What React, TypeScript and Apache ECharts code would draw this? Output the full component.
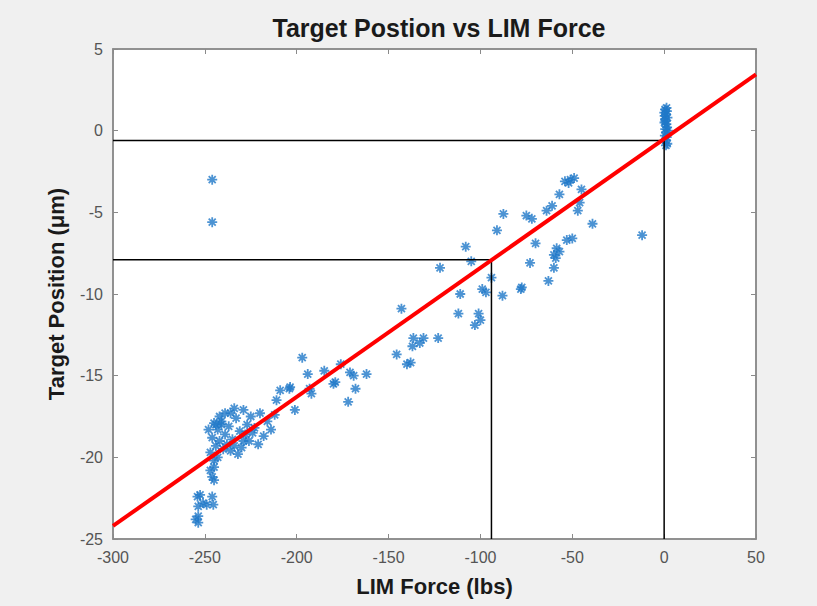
import React, { useEffect, useRef } from "react";
import * as echarts from "echarts";

const titleText = "Target Postion vs LIM Force";
const xName = "LIM Force (lbs)";
const yName = "Target Position (μm)";

const xTicks = [-300, -250, -200, -150, -100, -50, 0, 50];
const yTicks = [-25, -20, -15, -10, -5, 0, 5];

// LIM force (lbs) of each measurement
const forceLbs = [
  0.5, 1.5, 1.0, 0.3, 1.8, 0.8, 1.2, 0.2, 1.6, 0.6, 1.1, 0.4, 1.4, 0.9, 1.7, 0.5, 1.3, 0.1, 2.0, 1.0,
  -54, -51, -49, -52, -45, -57, -47, -46, -61, -64, -75, -72, -39, -12, -50, -53, -70, -58.5, -57, -60,
  -59, -73, -60, -63, -77.5, -87.5, -91, -108, -105, -122, -94, -78, -99, -97, -111, -88, -112, -101, -103, -100,
  -143, -136.5, -131, -123, -137, -138, -133, -145.6, -140,
  -197, -194, -185, -171, -169, -162, -179, -168, -172, -204, -209, -192, -211, -201, -180, -193, -203.6, -176,
  -236, -229, -220, -218, -245, -243, -241, -239, -237, -235, -233, -231, -229, -227, -225, -223, -221,
  -246, -244, -242, -240, -238, -236, -234, -232, -230, -228, -226, -224, -216, -214, -212,
  -247, -245, -247, -245, -246, -245, -243, -241, -239, -234, -244, -248, -242,
  -254, -251, -245.4, -253.6, -253.6, -252.6, -246, -253.6, -249, -255,
  -246, -246,
];

// Target position (µm) of each measurement
const positionUm = [
  1.3, 1.2, 1.0, 0.9, 0.8, 0.6, 0.4, 0.5, 0.2, 0.1, -0.1, -0.3, -0.4, -0.6, -0.8, 0.7, 1.4, 1.1, 0.0, -0.9,
  -3.1, -3.0, -2.9, -3.2, -3.6, -3.9, -4.9, -4.4, -4.6, -4.9, -5.2, -5.4, -5.7, -6.4, -6.6, -6.7, -6.9, -7.2, -7.4, -7.6,
  -7.8, -8.1, -8.4, -9.2, -9.6, -5.1, -6.1, -7.1, -8.0, -8.4, -9.0, -9.7, -9.7, -9.9, -10.0, -10.1, -11.2, -11.2, -11.9, -11.6,
  -10.9, -12.7, -12.7, -12.7, -13.2, -14.2, -13.0, -13.7, -14.3,
  -13.9, -14.9, -14.7, -14.8, -15.0, -14.9, -15.4, -15.8, -16.6, -15.8, -15.9, -16.1, -16.5, -17.1, -15.5, -15.8, -15.7, -14.3,
  -17.3, -17.1, -17.3, -18.7, -17.9, -18.3, -17.8, -18.6, -18.1, -18.9, -17.6, -18.4, -19.0, -18.0, -17.5, -18.2, -19.2,
  -18.8, -19.3, -19.0, -19.5, -19.2, -19.6, -19.3, -19.8, -19.4, -18.6, -19.0, -18.5, -17.8, -18.3, -17.4,
  -19.7, -20.2, -20.8, -21.4, -21.2, -20.6, -20.0, -18.0, -17.3, -17.0, -18.0, -18.3, -17.5,
  -22.4, -22.8, -22.9, -23.6, -24.0, -22.3, -22.4, -23.0, -22.9, -23.8,
  -3.0, -5.6,
];

// Linear fit endpoints
const fitX = [-300, 50];
const fitY = [-24.2, 3.45];

// Reference guide lines
const guideA = [[-300, -0.6], [0, -0.6], [0, -25]];
const guideB = [[-300, -7.9], [-94, -7.9], [-94, -25]];

const starPath =
  "path://M5,0L5,10M0,5L10,5M1.5,1.5L8.5,8.5M1.5,8.5L8.5,1.5";

export default function App() {
  const ref = useRef<HTMLDivElement>(null);

  useEffect(() => {
    document.body.style.margin = "0";
    document.body.style.background = "#f0f0f0";
    if (!ref.current) return;
    const chart = echarts.init(ref.current, undefined, { renderer: "svg" });

    const points = forceLbs.map((x, i) => [x, positionUm[i]]);
    const fit = fitX.map((x, i) => [x, fitY[i]]);

    const axisColor = "#8a8a8a";
    const font = "Liberation Sans, Arial, sans-serif";
    const labelStyle = { color: "#555", fontSize: 16, fontFamily: font };
    const line = { show: true, onZero: false, lineStyle: { color: axisColor, width: 1.5 } };
    const tick = { show: true, inside: true, length: 5, lineStyle: { color: axisColor } };
    const nameStyle = { fontSize: 22, fontWeight: "bold", color: "#1a1a1a", fontFamily: font };

    chart.setOption({
      animation: false,
      backgroundColor: "#f0f0f0",
      title: {
        text: titleText,
        left: 434,
        top: 10,
        textAlign: "center",
        textStyle: { fontSize: 25, fontWeight: "bold", color: "#1a1a1a", fontFamily: font },
      },
      grid: {
        left: 113,
        top: 49,
        right: 61,
        bottom: 67,
        show: true,
        backgroundColor: "#ffffff",
        borderColor: axisColor,
        borderWidth: 1.5,
      },
      xAxis: [
        {
          type: "value",
          min: -300,
          max: 50,
          interval: 50,
          position: "bottom",
          name: xName,
          nameLocation: "middle",
          nameGap: 36,
          nameTextStyle: nameStyle,
          axisLine: line,
          axisTick: tick,
          axisLabel: {
            ...labelStyle,
            margin: 10,
            formatter: (v: number) => (xTicks.includes(v) ? String(v) : ""),
          },
          splitLine: { show: false },
        },
        {
          type: "value",
          min: -300,
          max: 50,
          interval: 50,
          position: "top",
          axisLine: line,
          axisTick: tick,
          axisLabel: { show: false },
          splitLine: { show: false },
        },
      ],
      yAxis: [
        {
          type: "value",
          min: -25,
          max: 5,
          interval: 5,
          position: "left",
          name: yName,
          nameLocation: "middle",
          nameGap: 46,
          nameTextStyle: nameStyle,
          axisLine: line,
          axisTick: tick,
          axisLabel: {
            ...labelStyle,
            margin: 10,
            formatter: (v: number) => (yTicks.includes(v) ? String(v) : ""),
          },
          splitLine: { show: false },
        },
        {
          type: "value",
          min: -25,
          max: 5,
          interval: 5,
          position: "right",
          axisLine: line,
          axisTick: tick,
          axisLabel: { show: false },
          splitLine: { show: false },
        },
      ],
      series: [
        {
          type: "scatter",
          data: points,
          symbol: starPath,
          symbolSize: 10,
          itemStyle: {
            color: "transparent",
            borderColor: "#1f78c8",
            borderWidth: 1.8,
          },
          z: 2,
        },
        {
          type: "line",
          data: guideA,
          symbol: "none",
          lineStyle: { color: "#000", width: 1.5 },
          z: 3,
        },
        {
          type: "line",
          data: guideB,
          symbol: "none",
          lineStyle: { color: "#000", width: 1.5 },
          z: 3,
        },
        {
          type: "line",
          data: fit,
          symbol: "none",
          lineStyle: { color: "#ff0000", width: 4 },
          z: 4,
        },
      ],
    });

    return () => chart.dispose();
  }, []);

  return (
    <div
      ref={ref}
      style={{ width: 817, height: 606, position: "absolute", left: 0, top: 0 }}
    />
  );
}
